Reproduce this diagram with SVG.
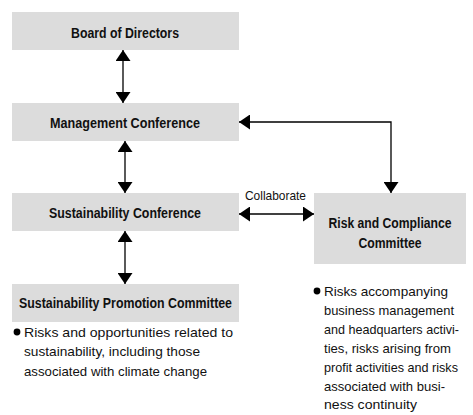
<svg xmlns="http://www.w3.org/2000/svg" width="473" height="415" viewBox="0 0 473 415">
<defs>
<style>
.box{fill:#dcdcdc;}
.t{font-family:"Liberation Sans Narrow","Liberation Sans",Arial,sans-serif;fill:#111;}
.b{font-weight:bold;font-size:14.5px;}
.b2{font-weight:bold;font-size:13.8px;}
.r{font-size:13.5px;}
.m{text-anchor:middle;}
.ln{stroke:#000;stroke-width:1.3;fill:none;marker-start:url(#ah);marker-end:url(#ah);}
</style>
<marker id="ah" viewBox="0 0 11 15" refX="11" refY="7.5" markerWidth="11" markerHeight="15" markerUnits="userSpaceOnUse" orient="auto-start-reverse">
<path d="M0,0 L11,7.5 L0,15 Z" fill="#000"/>
</marker>
</defs>
<rect width="473" height="415" fill="#fff"/>
<g id="board">
<rect class="box" x="12" y="12" width="227" height="38"/>
<text class="t b m" x="125" y="38" textLength="108" lengthAdjust="spacingAndGlyphs">Board of Directors</text>
</g>
<g id="management">
<rect class="box" x="12" y="103" width="227" height="38"/>
<text class="t b m" x="125" y="128" textLength="150" lengthAdjust="spacingAndGlyphs">Management Conference</text>
</g>
<g id="sustainability-conference">
<rect class="box" x="12" y="193" width="227" height="38"/>
<text class="t b m" x="125" y="218" textLength="152" lengthAdjust="spacingAndGlyphs">Sustainability Conference</text>
</g>
<g id="sustainability-promotion">
<rect class="box" x="12" y="284" width="227" height="38"/>
<text class="t b m" x="125.5" y="308" textLength="213" lengthAdjust="spacingAndGlyphs">Sustainability Promotion Committee</text>
<circle cx="17" cy="332" r="3.4" fill="#000"/>
<text class="t r" x="24" y="336.5" textLength="209" lengthAdjust="spacingAndGlyphs">Risks and opportunities related to</text>
<text class="t r" x="24" y="356" textLength="176" lengthAdjust="spacingAndGlyphs">sustainability, including those</text>
<text class="t r" x="24" y="375.5" textLength="183" lengthAdjust="spacingAndGlyphs">associated with climate change</text>
</g>
<g id="risk-compliance">
<rect class="box" x="314" y="193" width="152" height="71"/>
<text class="t b2 m" x="390" y="228" textLength="123" lengthAdjust="spacingAndGlyphs">Risk and Compliance</text>
<text class="t b2 m" x="390" y="247.5" textLength="63" lengthAdjust="spacingAndGlyphs">Committee</text>
<circle cx="317" cy="291" r="3.4" fill="#000"/>
<text class="t r" x="324" y="296" textLength="124" lengthAdjust="spacingAndGlyphs">Risks accompanying</text>
<text class="t r" x="324" y="314.9" textLength="130" lengthAdjust="spacingAndGlyphs">business management</text>
<text class="t r" x="324" y="333.8" textLength="135" lengthAdjust="spacingAndGlyphs">and headquarters activi-</text>
<text class="t r" x="324" y="352.7" textLength="127" lengthAdjust="spacingAndGlyphs">ties, risks arising from</text>
<text class="t r" x="324" y="371.6" textLength="134" lengthAdjust="spacingAndGlyphs">profit activities and risks</text>
<text class="t r" x="324" y="390.5" textLength="121" lengthAdjust="spacingAndGlyphs">associated with busi-</text>
<text class="t r" x="324" y="409.4" textLength="93" lengthAdjust="spacingAndGlyphs">ness continuity</text>
</g>
<g id="connectors">
<line class="ln" x1="123" y1="50" x2="123" y2="103"/>
<line class="ln" x1="125" y1="141" x2="125" y2="193"/>
<line class="ln" x1="125" y1="231" x2="125" y2="284"/>
<path class="ln" d="M239,122 H391 V193"/>
<line class="ln" x1="239" y1="214" x2="314" y2="214"/>
<text class="t r" x="245" y="200" textLength="61" lengthAdjust="spacingAndGlyphs">Collaborate</text>
</g>
</svg>
